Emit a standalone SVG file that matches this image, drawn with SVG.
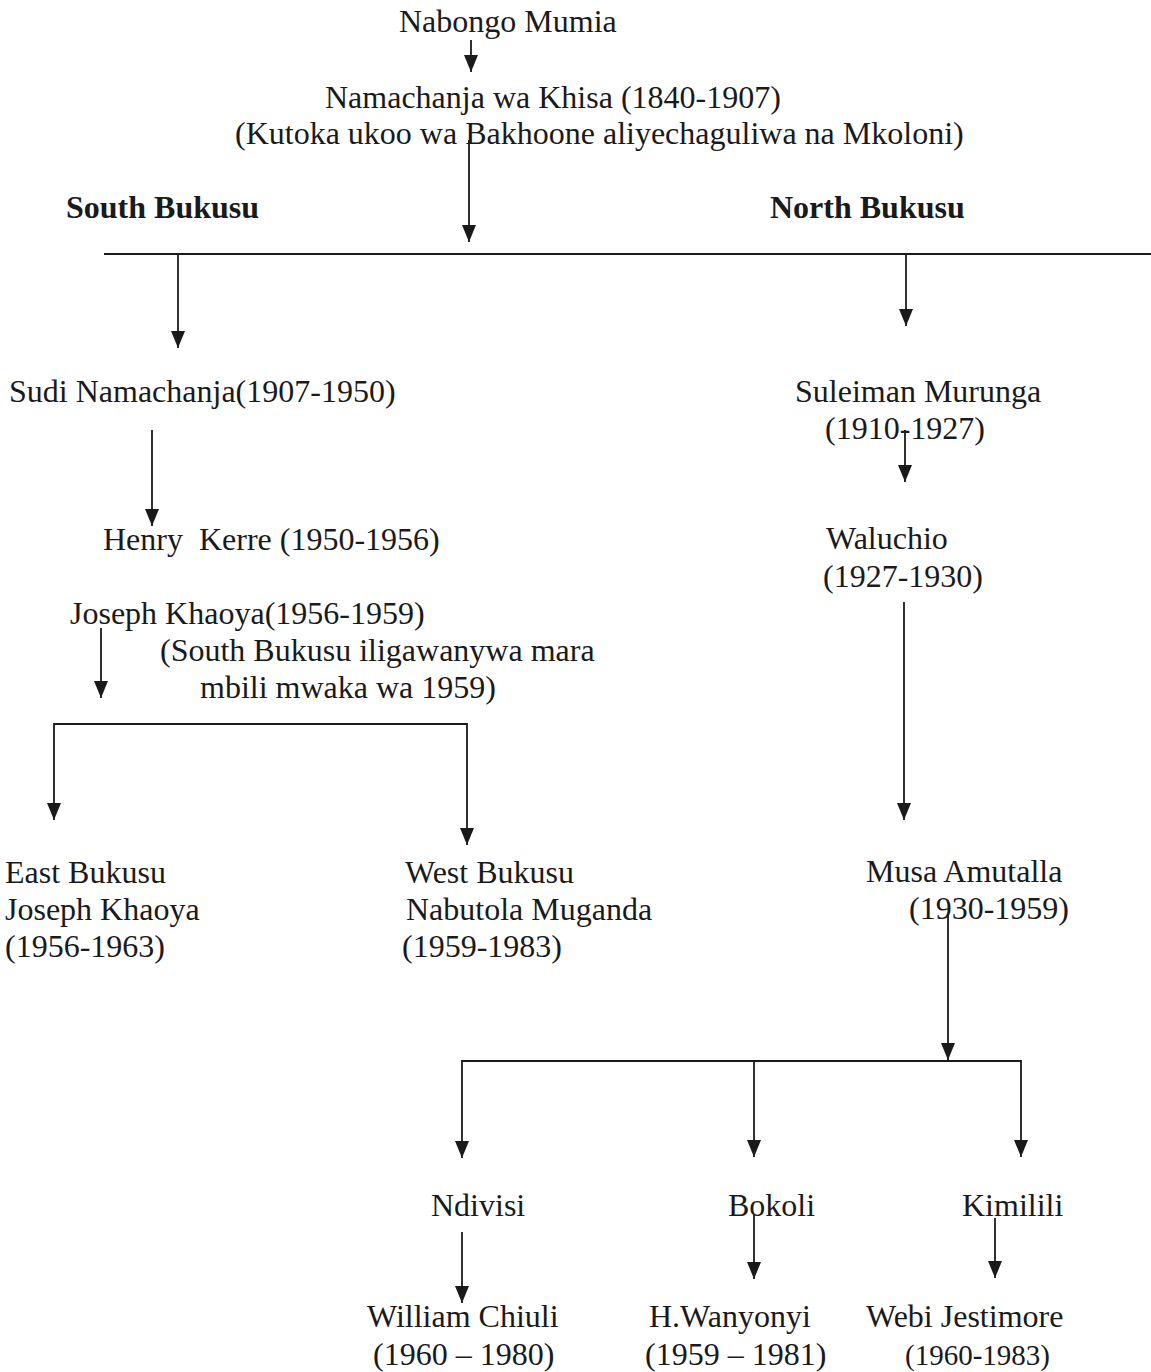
<svg xmlns="http://www.w3.org/2000/svg" width="1151" height="1372" viewBox="0 0 1151 1372">
<style>
text{font-family:"Liberation Serif","Times New Roman",serif;font-size:32px;fill:#1a1a1a;white-space:pre}
.b{font-weight:bold}
.c{stroke:#1a1a1a;stroke-width:1.8;fill:none}
</style>
<defs>
<marker id="ad" markerUnits="userSpaceOnUse" markerWidth="14" markerHeight="17" viewBox="0 0 14 17" refX="7" refY="17">
<path d="M0 0 L14 0 L7 17 Z" fill="#1a1a1a"/>
</marker>
</defs>
<rect width="1151" height="1372" fill="#ffffff"/>
<g id="connectors">
<line class="c" x1="471" y1="40" x2="471" y2="72" marker-end="url(#ad)"/>
<line class="c" x1="469" y1="140" x2="469" y2="242" marker-end="url(#ad)"/>
<line class="c" x1="104" y1="254" x2="1151" y2="254"/>
<line class="c" x1="178" y1="254" x2="178" y2="348" marker-end="url(#ad)"/>
<line class="c" x1="906" y1="254" x2="906" y2="326" marker-end="url(#ad)"/>
<line class="c" x1="152" y1="430" x2="152" y2="526" marker-end="url(#ad)"/>
<line class="c" x1="905" y1="430" x2="905" y2="482" marker-end="url(#ad)"/>
<line class="c" x1="101" y1="628" x2="101" y2="698" marker-end="url(#ad)"/>
<polyline class="c" points="54,800 54,724 467,724 467,825"/>
<line class="c" x1="54" y1="800" x2="54" y2="820" marker-end="url(#ad)"/>
<line class="c" x1="467" y1="825" x2="467" y2="845" marker-end="url(#ad)"/>
<line class="c" x1="904" y1="602" x2="904" y2="820" marker-end="url(#ad)"/>
<line class="c" x1="948" y1="915" x2="948" y2="1060" marker-end="url(#ad)"/>
<polyline class="c" points="462,1138 462,1061 1021,1061 1021,1137"/>
<line class="c" x1="462" y1="1138" x2="462" y2="1158" marker-end="url(#ad)"/>
<line class="c" x1="754" y1="1061" x2="754" y2="1157" marker-end="url(#ad)"/>
<line class="c" x1="1021" y1="1137" x2="1021" y2="1157" marker-end="url(#ad)"/>
<line class="c" x1="462" y1="1232" x2="462" y2="1303" marker-end="url(#ad)"/>
<line class="c" x1="754" y1="1215" x2="754" y2="1279" marker-end="url(#ad)"/>
<line class="c" x1="995" y1="1218" x2="995" y2="1278" marker-end="url(#ad)"/>
</g>
<g id="n-nabongo"><text x="399" y="32">Nabongo Mumia</text></g>
<g id="n-namachanja"><text x="325" y="108">Namachanja wa Khisa (1840-1907)</text><text x="235" y="144">(Kutoka ukoo wa Bakhoone aliyechaguliwa na Mkoloni)</text></g>
<g id="n-south"><text class="b" x="66" y="218">South Bukusu</text></g>
<g id="n-north"><text class="b" x="770" y="218">North Bukusu</text></g>
<g id="n-sudi"><text x="9" y="402">Sudi Namachanja(1907-1950)</text></g>
<g id="n-henry"><text x="103" y="550">Henry  Kerre (1950-1956)</text></g>
<g id="n-joseph"><text x="70" y="624">Joseph Khaoya(1956-1959)</text><text x="160" y="661">(South Bukusu iligawanywa mara</text><text x="200" y="698">mbili mwaka wa 1959)</text></g>
<g id="n-east"><text x="5" y="883">East Bukusu</text><text x="5" y="920">Joseph Khaoya</text><text x="5" y="957">(1956-1963)</text></g>
<g id="n-west"><text x="405" y="883">West Bukusu</text><text x="406" y="920">Nabutola Muganda</text><text x="402" y="957">(1959-1983)</text></g>
<g id="n-suleiman"><text x="795" y="402">Suleiman Murunga</text><text x="825" y="439">(1910-1927)</text></g>
<g id="n-waluchio"><text x="826" y="549">Waluchio</text><text x="823" y="587">(1927-1930)</text></g>
<g id="n-musa"><text x="866" y="882">Musa Amutalla</text><text x="909" y="919">(1930-1959)</text></g>
<g id="n-ndivisi"><text x="431" y="1216">Ndivisi</text></g>
<g id="n-bokoli"><text x="728" y="1216">Bokoli</text></g>
<g id="n-kimilili"><text x="962" y="1216">Kimilili</text></g>
<g id="n-william"><text x="367" y="1327">William Chiuli</text><text x="373" y="1365">(1960 – 1980)</text></g>
<g id="n-wanyonyi"><text x="649" y="1327">H.Wanyonyi</text><text x="645" y="1365">(1959 – 1981)</text></g>
<g id="n-webi"><text x="866" y="1327">Webi Jestimore</text><text x="905" y="1365" style="font-size:29px">(1960-1983)</text></g>
</svg>
